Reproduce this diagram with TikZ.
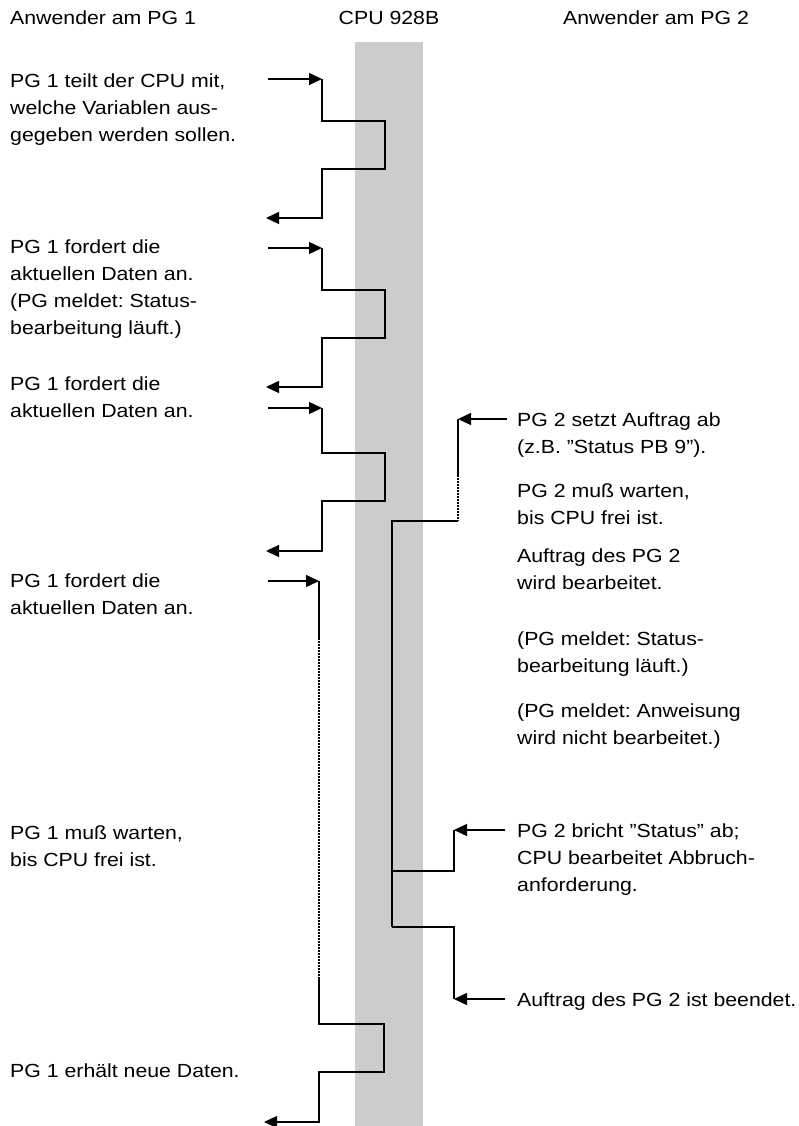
\documentclass[tikz,border=0pt]{standalone}
\usepackage{fontspec}
\setmainfont{Liberation Sans}[FakeStretch=1.12]
\usetikzlibrary{arrows.meta}
% several lines of text, anchored at the baseline of the first line
\newcommand\lns[1]{\begin{tabular}[t]{@{}l@{}}#1\end{tabular}}
\frenchspacing
\begin{document}
\begin{tikzpicture}[x=1pt,y=-1pt,
  lbl/.style={anchor=base west, inner sep=0pt, font=\fontsize{19}{27}\selectfont},
  head/.style={anchor=base, inner sep=0pt, font=\fontsize{19}{27}\selectfont},
  wire/.style={line width=1.3pt, line join=miter},
  tip/.style={wire, -{Triangle[length=13pt,width=12pt]}},
  wait/.style={line width=1.3pt, dash pattern=on 1.5pt off 1.5pt}]
\useasboundingbox (0,0) rectangle (799,1126);

% CPU time band
\fill[black!20] (355,42) rectangle (423,1126);

% column headings
\node[lbl]  (h1)  at (10,25)  {Anwender am PG 1};
\node[head] (hc)  at (389,25) {CPU 928B};
\node[lbl]  (h2)  at (563,25) {Anwender am PG 2};

% texts of PG 1
\node[lbl] (t1) at (10,88)  {\lns{PG 1 teilt der CPU mit,\\welche Variablen aus-\\gegeben werden sollen.}};
\node[lbl] (t2) at (10,253) {\lns{PG 1 fordert die\\aktuellen Daten an.\\(PG meldet: Status-\\bearbeitung läuft.)}};
\node[lbl] (t3) at (10,390) {\lns{PG 1 fordert die\\aktuellen Daten an.}};
\node[lbl] (t4) at (10,587) {\lns{PG 1 fordert die\\aktuellen Daten an.}};
\node[lbl] (t5) at (10,839) {\lns{PG 1 muß warten,\\bis CPU frei ist.}};
\node[lbl] (t6) at (10,1077) {PG 1 erhält neue Daten.};

% texts of PG 2
\node[lbl] (u1) at (517,426) {\lns{PG 2 setzt Auftrag ab\\(z.B. ”Status PB 9”).}};
\node[lbl] (u2) at (517,497) {\lns{PG 2 muß warten,\\bis CPU frei ist.}};
\node[lbl] (u3) at (517,562) {\lns{Auftrag des PG 2\\wird bearbeitet.}};
\node[lbl] (u4) at (517,645) {\lns{(PG meldet: Status-\\bearbeitung läuft.)}};
\node[lbl] (u5) at (517,717) {\lns{(PG meldet: Anweisung\\wird nicht bearbeitet.)}};
\node[lbl] (u6) at (517,837) {\lns{PG 2 bricht ”Status” ab;\\CPU bearbeitet Abbruch-\\anforderung.}};
\node[lbl] (u7) at (517,1006) {Auftrag des PG 2 ist beendet.};

% coordinates of the PG 1 exchanges
\coordinate (a0) at (268,79);  \coordinate (a1) at (322,79);
\coordinate (a2) at (322,121); \coordinate (a3) at (385,121);
\coordinate (a4) at (385,169); \coordinate (a5) at (322,169);
\coordinate (a6) at (322,218); \coordinate (a7) at (266,218);

\coordinate (b0) at (268,248); \coordinate (b1) at (322,248);
\coordinate (b2) at (322,290); \coordinate (b3) at (385,290);
\coordinate (b4) at (385,338); \coordinate (b5) at (322,338);
\coordinate (b6) at (322,387); \coordinate (b7) at (266,387);

\coordinate (c0) at (268,408); \coordinate (c1) at (322,408);
\coordinate (c2) at (322,453); \coordinate (c3) at (385,453);
\coordinate (c4) at (385,501); \coordinate (c5) at (322,501);
\coordinate (c6) at (322,551); \coordinate (c7) at (266,551);

\coordinate (d0) at (268,581);  \coordinate (d1) at (319,581);
\coordinate (d2) at (319,638);  \coordinate (d3) at (319,978);
\coordinate (d4) at (319,1024); \coordinate (d5) at (384,1024);
\coordinate (d6) at (384,1072); \coordinate (d7) at (319,1072);
\coordinate (d8) at (319,1122); \coordinate (d9) at (264,1122);

% coordinates of the PG 2 exchanges
\coordinate (e0) at (507,419); \coordinate (e1) at (458,419);
\coordinate (e2) at (458,475); \coordinate (e3) at (458,521);
\coordinate (e4) at (392,521); \coordinate (e5) at (392,871);
\coordinate (e6) at (392,927);
\coordinate (f0) at (505,830); \coordinate (f1) at (454,830);
\coordinate (f2) at (454,871);
\coordinate (g0) at (505,999); \coordinate (g1) at (454,999);
\coordinate (g2) at (454,927);

% PG 1: output request
\draw[tip]  (a0) -- (a1);
\draw[tip]  (a1) -- (a2) -- (a3) -- (a4) -- (a5) -- (a6) -- (a7);
% PG 1: status requests
\draw[tip]  (b0) -- (b1);
\draw[tip]  (b1) -- (b2) -- (b3) -- (b4) -- (b5) -- (b6) -- (b7);
\draw[tip]  (c0) -- (c1);
\draw[tip]  (c1) -- (c2) -- (c3) -- (c4) -- (c5) -- (c6) -- (c7);
% PG 1: request while PG 2 occupies the CPU
\draw[tip]  (d0) -- (d1);
\draw[wire] (d1) -- (d2);
\draw[wait] (d2) -- (d3);
\draw[tip]  (d3) -- (d4) -- (d5) -- (d6) -- (d7) -- (d8) -- (d9);

% PG 2: job, abort and end
\draw[tip]  (e0) -- (e1);
\draw[wire] (e1) -- (e2);
\draw[wait] (e2) -- (e3);
\draw[wire] (e3) -- (e4) -- (e6);
\draw[tip]  (f0) -- (f1);
\draw[wire] (f1) -- (f2) -- (e5);
\draw[tip]  (g0) -- (g1);
\draw[wire] (g1) -- (g2) -- (e6);
\end{tikzpicture}
\end{document}
